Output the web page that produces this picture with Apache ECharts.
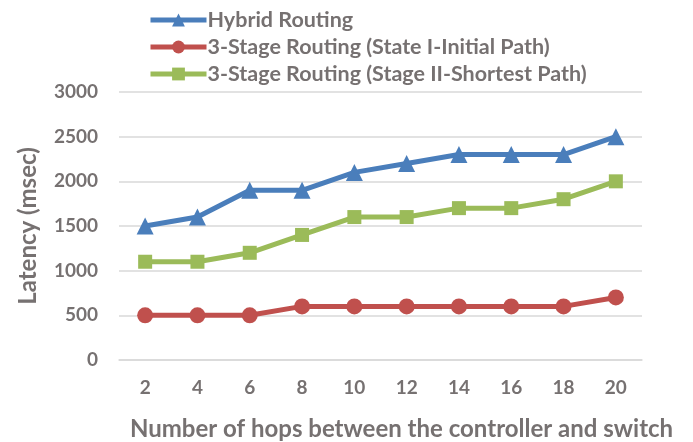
<!DOCTYPE html>
<html>
<head>
<meta charset="utf-8">
<script src="https://cdn.jsdelivr.net/npm/echarts@6/dist/echarts.min.js"></script>
<style>
  html, body { margin: 0; padding: 0; background: #fff; }
  #chart { width: 693px; height: 442px; }
</style>
</head>
<body>
<div id="chart"></div>
<script>
const hops = ['2', '4', '6', '8', '10', '12', '14', '16', '18', '20']
const hybrid = [1500, 1600, 1900, 1900, 2100, 2200, 2300, 2300, 2300, 2500]
const stageInitial = [500, 500, 500, 600, 600, 600, 600, 600, 600, 700]
const stageShortest = [1100, 1100, 1200, 1400, 1600, 1600, 1700, 1700, 1800, 2000]

const textColor = '#767171'
const font = 'Lato, "Open Sans", sans-serif'

const chart = echarts.init(document.getElementById('chart'))

const options = {
    animation: false,
    textStyle: { fontFamily: font },
    legend: {
        orient: 'vertical',
        left: 143,
        top: 4,
        itemWidth: 56,
        itemHeight: 16,
        itemGap: 5,
        lineStyle: { width: 5 },
        textStyle: { color: textColor, fontSize: 21.5, fontWeight: 'bold', fontFamily: font, padding: [0, 0, 0, -4] },
        data: ['Hybrid Routing', '3-Stage Routing (State I-Initial Path)', '3-Stage Routing (Stage II-Shortest Path)']
    },
    grid: {
        left: 119,
        right: 51,
        top: 92,
        bottom: 82,
        outerBoundsMode: 'none'
    },
    xAxis: {
        type: 'category',
        data: hops,
        name: 'Number of hops between the controller and switch',
        nameLocation: 'middle',
        nameGap: 57,
        nameTextStyle: { color: textColor, fontSize: 24, fontWeight: 'bold', padding: [0, 0, 0, 42] },
        axisLine: { lineStyle: { color: '#d9d9d9', width: 1.5 } },
        axisTick: { show: false },
        axisLabel: { color: textColor, fontSize: 19, fontWeight: 'bold', margin: 18 }
    },
    yAxis: {
        type: 'value',
        min: 0,
        max: 3000,
        interval: 500,
        name: 'Latency (msec)',
        nameLocation: 'middle',
        nameGap: 79,
        nameTextStyle: { color: textColor, fontSize: 24, fontWeight: 'bold' },
        axisLine: { show: false },
        axisTick: { show: false },
        axisLabel: { color: textColor, fontSize: 19, fontWeight: 'bold', margin: 21, formatter: v => String(v) },
        splitLine: { lineStyle: { color: '#d9d9d9', width: 1.5 } }
    },
    series: [
        {
            name: 'Hybrid Routing',
            type: 'line',
            data: hybrid,
            symbol: 'triangle',
            symbolSize: 17,
            color: '#4a7ebb',
            lineStyle: { width: 5 }
        },
        {
            name: '3-Stage Routing (State I-Initial Path)',
            type: 'line',
            data: stageInitial,
            symbol: 'circle',
            symbolSize: 16,
            color: '#c0504d',
            lineStyle: { width: 5 }
        },
        {
            name: '3-Stage Routing (Stage II-Shortest Path)',
            type: 'line',
            data: stageShortest,
            symbol: 'rect',
            symbolSize: 14,
            color: '#9bbb59',
            lineStyle: { width: 5 }
        }
    ]
}

chart.setOption(options)
</script>
</body>
</html>
